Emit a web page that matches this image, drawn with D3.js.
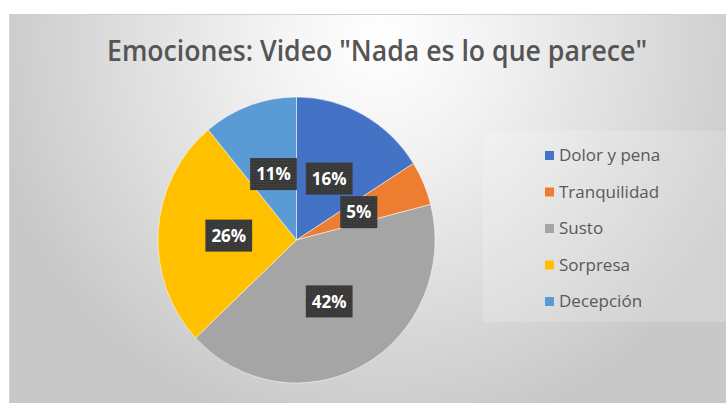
<!DOCTYPE html>
<html>
<head>
<meta charset="utf-8">
<script src="https://cdn.jsdelivr.net/npm/d3@7"></script>
<style>
  html, body { margin: 0; padding: 0; background: #ffffff; }
  svg { display: block; }
</style>
</head>
<body>
<svg id="chart" width="726" height="403"></svg>
<script>
// ---- data ----
const categories = ["Dolor y pena", "Tranquilidad", "Susto", "Sorpresa", "Decepción"];
const values = [16, 5, 42, 26, 11];
const colors = ["#4472C4", "#ED7D31", "#A5A5A5", "#FFC000", "#5B9BD5"];
const titleText = 'Emociones: Video "Nada es lo que parece"';

const svg = d3.select("#chart");
const W = 726, H = 403;

const defs = svg.append("defs");
const bg = defs.append("radialGradient").attr("id", "bg")
  .attr("gradientUnits", "userSpaceOnUse")
  .attr("cx", 380).attr("cy", 40).attr("r", 400);
bg.append("stop").attr("offset", "0%").attr("stop-color", "#ffffff");
bg.append("stop").attr("offset", "25%").attr("stop-color", "#f4f4f4");
bg.append("stop").attr("offset", "70%").attr("stop-color", "#dadada");
bg.append("stop").attr("offset", "100%").attr("stop-color", "#c8c8c8");

const pat = defs.append("pattern").attr("id", "dots")
  .attr("patternUnits", "userSpaceOnUse").attr("width", 3).attr("height", 3);
pat.append("rect").attr("width", 3).attr("height", 3).attr("fill", "#383838");
pat.append("rect").attr("x", 1).attr("y", 1).attr("width", 1).attr("height", 1).attr("fill", "#4d4d4d");

// chart area
svg.append("rect").attr("x", 9).attr("y", 14).attr("width", W - 9).attr("height", H - 14)
  .attr("fill", "url(#bg)");
svg.append("line").attr("x1", 9).attr("x2", W).attr("y1", 14.5).attr("y2", 14.5)
  .attr("stroke", "#d0d0d0").attr("stroke-width", 1);
svg.append("line").attr("x1", 9.5).attr("x2", 9.5).attr("y1", 14).attr("y2", H)
  .attr("stroke", "#d4d4d4").attr("stroke-width", 1);

// title
svg.append("text")
  .attr("x", 107).attr("y", 61)
  .attr("textLength", 540).attr("lengthAdjust", "spacingAndGlyphs")
  .attr("font-family", "'Open Sans', sans-serif").attr("font-weight", 600)
  .attr("font-size", 28).attr("fill", "#555555")
  .text(titleText);

// pie
const data = categories.map((c, i) => ({ name: c, value: values[i], color: colors[i] }));
const pie = d3.pie().value(d => d.value).sort(null);
const R = 143;
const arc = d3.arc().innerRadius(0).outerRadius(R);
const labelArc = d3.arc().innerRadius(0).outerRadius(R * 0.98);
const cx = 296.5, cy = 240, sx = 138.5 / 143;

const arcs = pie(data);
const pg = svg.append("g").attr("transform", `translate(${cx},${cy}) scale(${sx},1)`);
pg.selectAll("path").data(arcs).join("path")
  .attr("d", arc)
  .attr("fill", d => d.data.color)
  .attr("stroke", "rgba(255,255,255,0.5)")
  .attr("stroke-width", 1);

// data labels
const total = d3.sum(values);
const lg = svg.append("g").attr("transform", `translate(${cx},${cy})`);
const labels = lg.selectAll("g.lbl").data(arcs).join("g").attr("class", "lbl")
  .attr("transform", d => { const c = labelArc.centroid(d); return `translate(${c[0] * sx},${c[1]})`; });
labels.append("rect").attr("fill", "url(#dots)");
labels.append("text")
  .attr("text-anchor", "middle").attr("dy", "0.36em")
  .attr("font-family", "'Open Sans', sans-serif").attr("font-weight", 700)
  .attr("font-size", 17).attr("fill", "#ffffff")
  .text(d => Math.round(d.data.value / total * 100) + "%");
labels.each(function () {
  const t = d3.select(this).select("text").node();
  const w = t.getComputedTextLength();
  d3.select(this).select("rect")
    .attr("x", -w / 2 - 6).attr("y", -16).attr("width", w + 12).attr("height", 32);
});

// legend
svg.append("rect").attr("x", 483).attr("y", 131).attr("width", W - 483).attr("height", 191)
  .attr("fill", "rgba(255,255,255,0.18)");
const leg = svg.append("g");
const ly = d3.scalePoint().domain(categories).range([155, 301]);
const items = leg.selectAll("g").data(data).join("g")
  .attr("transform", d => `translate(545,${ly(d.name)})`);
items.append("rect").attr("x", 0).attr("y", -4).attr("width", 9).attr("height", 9)
  .attr("fill", d => d.color);
items.append("text").attr("x", 14).attr("dy", "0.36em")
  .attr("font-family", "'Open Sans', sans-serif").attr("font-size", 17)
  .attr("fill", "#595959")
  .text(d => d.name);
</script>
</body>
</html>
